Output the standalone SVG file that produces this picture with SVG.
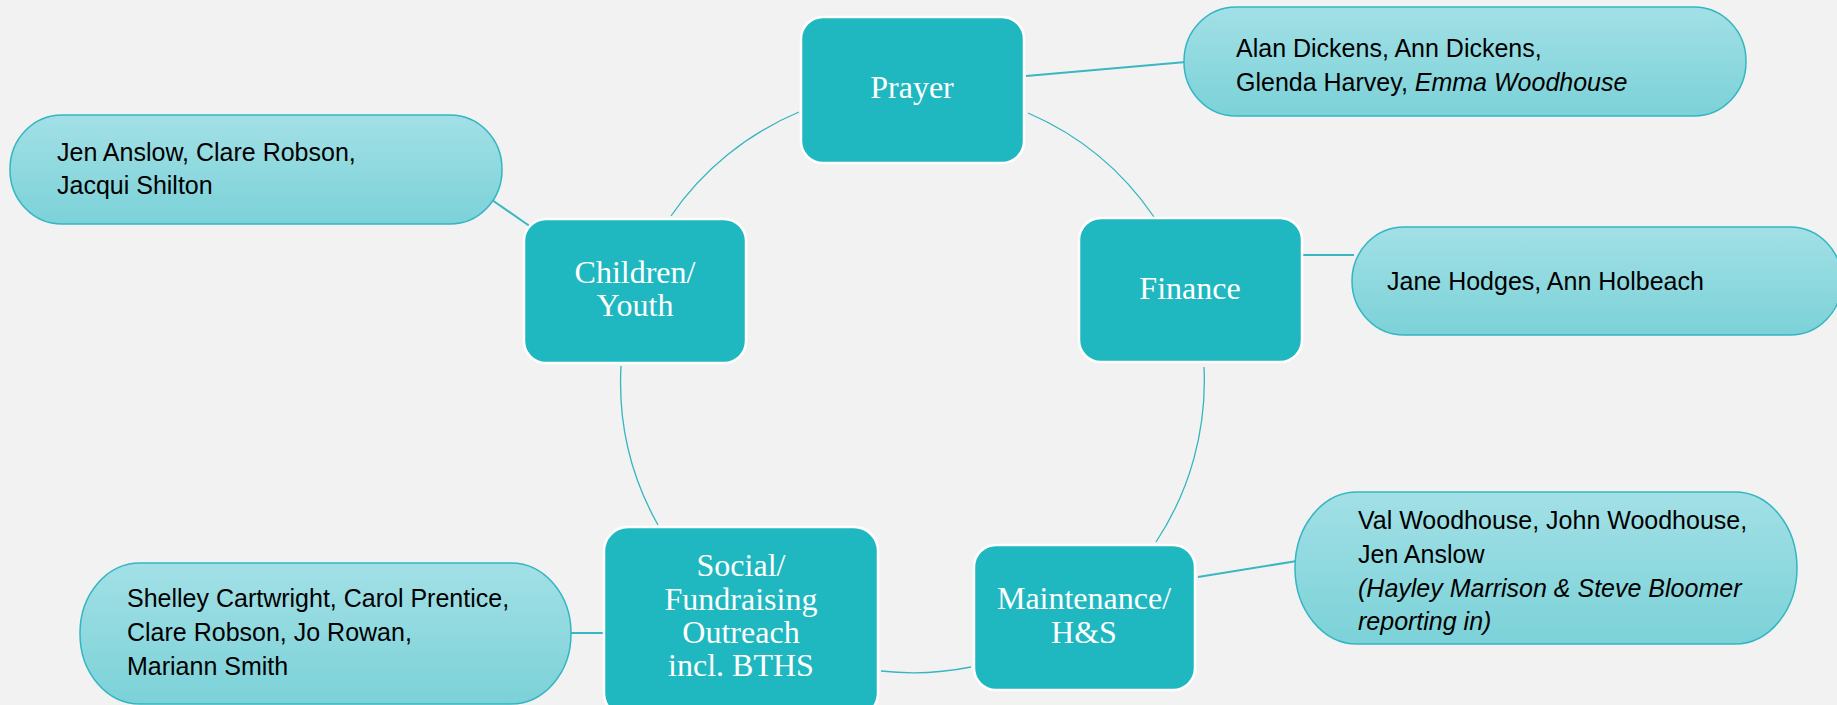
<svg xmlns="http://www.w3.org/2000/svg" width="1837" height="705" viewBox="0 0 1837 705">
<defs>
<linearGradient id="pillGrad" x1="0" y1="0" x2="0" y2="1">
<stop offset="0" stop-color="#a2e0e6"/>
<stop offset="1" stop-color="#7bd2d8"/>
</linearGradient>
</defs>
<style>
.bg{fill:#f2f2f2}
.box{fill:#1fb8c0;stroke:#ffffff;stroke-width:2.5}
.pill{fill:url(#pillGrad);stroke:#33b6c1;stroke-width:1.5}
.arc{fill:none;stroke:#34b5c0;stroke-width:1.3}
.link{fill:none;stroke:#3ab7c2;stroke-width:2}
.lbl{font-family:"Liberation Serif","Times New Roman",serif;font-size:32px;fill:#ffffff;text-anchor:middle}
.ppl{font-family:"Liberation Sans",Arial,sans-serif;font-size:25px;fill:#000000}
.it{font-style:italic}
</style>
<rect class="bg" x="0" y="0" width="1837" height="705"/>
<g id="connectors">
<path class="arc" d="M1028,113 A292,292 0 0 1 1154,217"/>
<path class="arc" d="M1204,367 A292,292 0 0 1 1156,542"/>
<path class="arc" d="M971,667 A292,292 0 0 1 881,671"/>
<path class="arc" d="M658,525 A292,292 0 0 1 621,366"/>
<path class="arc" d="M671,216 A292,292 0 0 1 799,112"/>
<line class="link" x1="1026" y1="76" x2="1186" y2="62"/>
<line class="link" x1="482" y1="193" x2="531" y2="227"/>
<line class="link" x1="1302" y1="255" x2="1354" y2="255"/>
<line class="link" x1="1198" y1="577" x2="1297" y2="561"/>
<line class="link" x1="569" y1="633" x2="604" y2="633"/>
</g>
<g id="prayer">
<rect class="box" x="801" y="17" width="223" height="146" rx="22"/>
<text class="lbl" x="912" y="98">Prayer</text>
</g>
<g id="finance">
<rect class="box" x="1079" y="218" width="223" height="144" rx="22"/>
<text class="lbl" x="1190" y="299">Finance</text>
</g>
<g id="maintenance">
<rect class="box" x="974" y="545" width="221" height="145" rx="22"/>
<text class="lbl" x="1084" y="609">Maintenance/</text>
<text class="lbl" x="1084" y="643">H&amp;S</text>
</g>
<g id="social">
<rect class="box" x="604" y="527" width="274" height="190" rx="24"/>
<text class="lbl" x="741" y="576">Social/</text>
<text class="lbl" x="741" y="610">Fundraising</text>
<text class="lbl" x="741" y="643">Outreach</text>
<text class="lbl" x="741" y="676">incl. BTHS</text>
</g>
<g id="children">
<rect class="box" x="524" y="219" width="222" height="144" rx="22"/>
<text class="lbl" x="635" y="283">Children/</text>
<text class="lbl" x="635" y="316">Youth</text>
</g>
<g id="prayer-people">
<rect class="pill" x="1184" y="7" width="562" height="109" rx="52" ry="54"/>
<text class="ppl" x="1236" y="57">Alan Dickens, Ann Dickens,</text>
<text class="ppl" x="1236" y="91">Glenda Harvey, <tspan class="it">Emma Woodhouse</tspan></text>
</g>
<g id="children-people">
<rect class="pill" x="10" y="115" width="492" height="109" rx="52" ry="54"/>
<text class="ppl" x="57" y="161">Jen Anslow, Clare Robson,</text>
<text class="ppl" x="57" y="194">Jacqui Shilton</text>
</g>
<g id="finance-people">
<rect class="pill" x="1352" y="227" width="490" height="108" rx="52" ry="54"/>
<text class="ppl" x="1387" y="290">Jane Hodges, Ann Holbeach</text>
</g>
<g id="maintenance-people">
<rect class="pill" x="1295" y="492" width="502" height="152" rx="62" ry="76"/>
<text class="ppl" x="1358" y="529">Val Woodhouse, John Woodhouse,</text>
<text class="ppl" x="1358" y="563">Jen Anslow</text>
<text class="ppl it" x="1358" y="597">(Hayley Marrison &amp; Steve Bloomer</text>
<text class="ppl it" x="1358" y="630">reporting in)</text>
</g>
<g id="social-people">
<rect class="pill" x="80" y="563" width="491" height="141" rx="60" ry="70"/>
<text class="ppl" x="127" y="607">Shelley Cartwright, Carol Prentice,</text>
<text class="ppl" x="127" y="641">Clare Robson, Jo Rowan,</text>
<text class="ppl" x="127" y="675">Mariann Smith</text>
</g>
</svg>
